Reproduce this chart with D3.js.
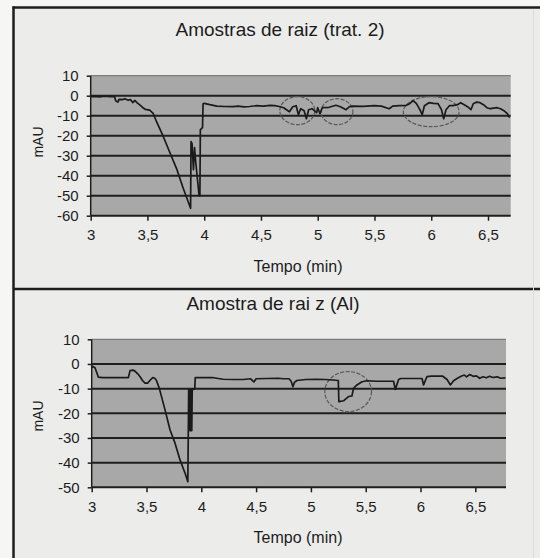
<!DOCTYPE html>
<html>
<head>
<meta charset="utf-8">
<script src="https://cdn.jsdelivr.net/npm/d3@7"></script>
<style>
  html, body { margin: 0; padding: 0; background: #f6f6f5; }
  svg { display: block; }
  text { font-family: "Liberation Sans", Arial, sans-serif; fill: #1c1c1c; }
</style>
</head>
<body>
<script>
// ---------- DATA ----------
const chartTitles = ["Amostras de raiz (trat. 2)", "Amostra de rai z (Al)"];
const xAxisTitle = "Tempo (min)";
const yAxisTitle = "mAU";

const xTicks = [3, 3.5, 4, 4.5, 5, 5.5, 6, 6.5];
const xTickLabels = ["3", "3,5", "4", "4,5", "5", "5,5", "6", "6,5"];

const yTicksTop = [10, 0, -10, -20, -30, -40, -50, -60];
const yTickLabelsTop = ["10", "0", "-10", "-20", "-30", "-40", "-50", "-60"];
const yTicksBottom = [10, 0, -10, -20, -30, -40, -50];
const yTickLabelsBottom = ["10", "0", "-10", "-20", "-30", "-40", "-50"];

// Series 1: Amostras de raiz (trat. 2)
const trat2Time = [
  3.00, 3.03, 3.08, 3.12, 3.17, 3.21, 3.22, 3.24, 3.25, 3.28, 3.30, 3.33, 3.35, 3.37, 3.39, 3.41,
  3.435, 3.46, 3.48, 3.52, 3.55, 3.58, 3.64, 3.70, 3.76, 3.815, 3.88,
  3.884, 3.893, 3.905, 3.915, 3.925, 3.955, 3.962, 3.966, 3.985, 3.990,
  4.00, 4.05, 4.11, 4.18, 4.25, 4.30, 4.35, 4.40, 4.46, 4.52, 4.58, 4.62, 4.66, 4.70, 4.75, 4.78,
  4.81, 4.83, 4.85, 4.88, 4.90, 4.92, 4.95, 4.99, 5.00, 5.02, 5.04, 5.10, 5.16, 5.20, 5.25, 5.28,
  5.31, 5.40, 5.50, 5.56, 5.63, 5.66, 5.72, 5.78, 5.81, 5.84, 5.87, 5.90, 5.92, 5.94, 5.98, 6.02,
  6.06, 6.09, 6.11, 6.13, 6.16, 6.19, 6.23, 6.26, 6.29, 6.32, 6.35, 6.37, 6.40, 6.43, 6.46, 6.49,
  6.52, 6.55, 6.58, 6.61, 6.64, 6.67, 6.69
];
const trat2Value = [
  -0.5, -0.3, -0.6, -0.2, -0.5, -0.4, -2.5, -3.2, -1.8, -2.0, -1.5, -2.3, -1.9, -3.4, -2.4, -3.6,
  -4.7, -6.0, -6.8, -7.2, -8.8, -13, -20.5, -28.8, -37, -46.3, -56.3,
  -23, -24, -37, -26, -33, -50, -50, -17, -16, -4,
  -3.8, -4.5, -5.2, -5.4, -5.5, -5.2, -5.6, -5.4, -5.0, -5.2, -4.8, -5.0, -5.4, -6.0, -8.0, -5.5,
  -5.0, -9.5, -6.5, -7.5, -11.5, -7, -6.5, -8.5, -6, -9, -6, -5.8, -4.8, -5.5, -7.0, -5.5,
  -5.2, -5.3, -5.0, -5.2, -6.5, -5.2, -5.0, -4.8, -4.0, -2.5, -4.0, -7, -9.5, -5, -3.5, -3.8,
  -4.0, -7, -11.5, -7, -5, -5, -4.5, -3.5, -4.5, -5.5, -7, -4, -3.2, -3.5, -4.5, -6.0,
  -6.5, -6.2, -6.0, -6.5, -7.5, -9, -11
];

// Series 2: Amostra de raiz (Al)
const alTime = [
  3.00, 3.01, 3.03, 3.05, 3.06, 3.10, 3.20, 3.30, 3.335, 3.35, 3.375, 3.395, 3.42, 3.44, 3.465,
  3.487, 3.51, 3.535, 3.557, 3.575, 3.59, 3.617, 3.669, 3.715, 3.761, 3.806, 3.852, 3.877,
  3.885, 3.893, 3.897, 3.901, 3.905, 3.909, 3.913, 3.917, 3.94, 3.945,
  4.00, 4.10, 4.14, 4.20, 4.30, 4.38, 4.45, 4.48, 4.50, 4.60, 4.70, 4.75, 4.80, 4.82, 4.836, 4.85,
  4.872, 4.95, 5.05, 5.13, 5.20, 5.25, 5.255, 5.30, 5.343, 5.374, 5.389, 5.42, 5.466, 5.511,
  5.60, 5.70, 5.754, 5.77, 5.80, 5.82, 5.90, 6.014, 6.028, 6.059, 6.10, 6.20, 6.242, 6.272,
  6.302, 6.333, 6.37, 6.40, 6.42, 6.45, 6.48, 6.51, 6.54, 6.57, 6.60, 6.63, 6.66, 6.70, 6.73, 6.775
];
const alValue = [
  -1.5, -1.0, -1.5, -4.0, -5.3, -5.5, -5.5, -5.5, -5.5, -2.7, -2.5, -2.9, -4.0, -5.1, -6.8,
  -7.8, -7.8, -6.5, -5.5, -5.8, -6.6, -9.9, -18.6, -26.8, -32.2, -38.9, -44.3, -47.7,
  -10.5, -10.5, -27, -10.5, -27, -10.5, -27, -10.5, -10, -5.5,
  -5.5, -5.5, -5.8, -6.2, -6.3, -6.3, -6.0, -7.3, -6.0, -5.9, -5.8, -6.0, -6.0, -7.0, -9.2, -7.5,
  -6.7, -6.3, -6.2, -6.3, -6.5, -6.7, -15.3, -14.9, -13.2, -13.0, -9.9, -8.5, -7.2, -6.8,
  -7.0, -7.0, -7.0, -10.3, -6.3, -5.9, -5.9, -5.9, -8.5, -5.1, -4.9, -4.9, -6.3, -8.5,
  -6.8, -5.9, -5.0, -4.5, -5.2, -4.3, -5.0, -4.8, -5.8, -5.2, -5.6, -5.0, -5.5, -5.2, -5.8, -5.6
];

// Hand-drawn annotation ellipses (centre time, centre value, half-width in min, half-height in mAU)
const trat2CircleTime = [4.82, 5.17, 6.00];
const trat2CircleValue = [-7.5, -8, -8];
const trat2CircleRx = [0.154, 0.14, 0.246];
const trat2CircleRy = [7, 6.5, 7.5];
const alCircleTime = [5.34];
const alCircleValue = [-11.2];
const alCircleRx = [0.213];
const alCircleRy = [8.1];

// ---------- DRAWING ----------
const W = 540, H = 558;
const svg = d3.select("body").append("svg").attr("width", W).attr("height", H);

// panel background and frame
svg.append("rect").attr("x", 14).attr("y", 8).attr("width", W - 14).attr("height", H - 8)
  .attr("fill", "#ececeb");
svg.append("line").attr("x1", 12.5).attr("x2", W).attr("y1", 7.5).attr("y2", 7.5)
  .attr("stroke", "#1e1e1e").attr("stroke-width", 2.5);
svg.append("line").attr("x1", 13.5).attr("x2", 13.5).attr("y1", 6.5).attr("y2", H)
  .attr("stroke", "#1e1e1e").attr("stroke-width", 2.5);
svg.append("line").attr("x1", 13).attr("x2", W).attr("y1", 289).attr("y2", 289)
  .attr("stroke", "#1e1e1e").attr("stroke-width", 2.5);
svg.append("line").attr("x1", 533.5).attr("x2", 533.5).attr("y1", 9).attr("y2", H)
  .attr("stroke", "#dcdcdc").attr("stroke-width", 1);

function drawChart(cfg) {
  const x = d3.scaleLinear().domain(cfg.xDomain).range([cfg.left, cfg.right]);
  const y = d3.scaleLinear().domain(cfg.yDomain).range([cfg.bottom, cfg.top]);
  const g = svg.append("g");

  // plot area
  g.append("rect")
    .attr("x", cfg.left).attr("y", cfg.top)
    .attr("width", cfg.right - cfg.left).attr("height", cfg.bottom - cfg.top)
    .attr("fill", "#a8a8a8");

  // gridlines
  g.selectAll(".grid").data(cfg.yTicks.filter(v => v !== cfg.yDomain[0]))
    .enter().append("line")
    .attr("x1", cfg.left).attr("x2", cfg.right)
    .attr("y1", d => y(d)).attr("y2", d => y(d))
    .attr("stroke", d => d === cfg.yDomain[1] ? "#6a6a6a" : "#1e1e1e")
    .attr("stroke-width", d => d === cfg.yDomain[1] ? 1 : 2);

  // annotation ellipses
  g.selectAll(".circ").data(cfg.circT.map((t, i) => i))
    .enter().append("ellipse")
    .attr("cx", i => x(cfg.circT[i]))
    .attr("cy", i => y(cfg.circV[i]))
    .attr("rx", i => x(cfg.circT[i] + cfg.circRx[i]) - x(cfg.circT[i]))
    .attr("ry", i => y(cfg.circV[i] - cfg.circRy[i]) - y(cfg.circV[i]))
    .attr("fill", "none").attr("stroke", "#5a5a5a").attr("stroke-width", 1.2)
    .attr("stroke-dasharray", "4,1.5");

  // series line
  const pts = cfg.time.map((t, i) => [t, cfg.value[i]]);
  g.append("path").datum(pts)
    .attr("d", d3.line().x(d => x(d[0])).y(d => y(d[1])))
    .attr("fill", "none").attr("stroke", "#1a1a1a").attr("stroke-width", 1.7)
    .attr("stroke-linejoin", "round");

  // axes
  const xAxis = d3.axisBottom(x).tickValues(xTicks)
    .tickFormat((d, i) => xTickLabels[i]).tickSize(5).tickPadding(9);
  const gx = g.append("g").attr("transform", `translate(0,${cfg.bottom})`).call(xAxis);
  gx.select(".domain").attr("stroke", "#1e1e1e").attr("stroke-width", 2)
    .attr("d", `M${cfg.left},0H${cfg.right}`);
  gx.selectAll(".tick line").attr("stroke", "#1e1e1e").attr("stroke-width", 1.5);
  gx.selectAll(".tick text").attr("font-size", 15).attr("fill", "#1c1c1c")
    .attr("font-family", '"Liberation Sans", Arial, sans-serif');

  const yAxis = d3.axisLeft(y).tickValues(cfg.yTicks)
    .tickFormat((d, i) => cfg.yLabels[i]).tickSize(4).tickPadding(8);
  const gy = g.append("g").attr("transform", `translate(${cfg.left},0)`).call(yAxis);
  gy.select(".domain").attr("stroke", "#1e1e1e").attr("stroke-width", 1.5)
    .attr("d", `M0,${cfg.top}V${cfg.bottom}`);
  gy.selectAll(".tick line").attr("stroke", "#1e1e1e").attr("stroke-width", 1.5);
  gy.selectAll(".tick text").attr("font-size", 15).attr("fill", "#1c1c1c")
    .attr("font-family", '"Liberation Sans", Arial, sans-serif');

  // titles
  g.append("text").attr("x", cfg.titleX).attr("y", cfg.titleY)
    .attr("text-anchor", "middle").attr("font-size", 19).text(cfg.title);
  g.append("text").attr("x", 298).attr("y", cfg.bottom + 56)
    .attr("text-anchor", "middle").attr("font-size", 16).text(xAxisTitle);
  g.append("text")
    .attr("transform", `translate(43,${cfg.yTitleY}) rotate(-90)`)
    .attr("text-anchor", "middle").attr("font-size", 14).text(yAxisTitle);
}

drawChart({
  title: chartTitles[0], titleX: 280, titleY: 36,
  xDomain: [3, 6.7], yDomain: [-60, 10],
  left: 90.7, right: 510.7, top: 75.7, bottom: 215.7,
  yTicks: yTicksTop, yLabels: yTickLabelsTop,
  time: trat2Time, value: trat2Value,
  circT: trat2CircleTime, circV: trat2CircleValue, circRx: trat2CircleRx, circRy: trat2CircleRy,
  yTitleY: 142
});

drawChart({
  title: chartTitles[1], titleX: 273, titleY: 310,
  xDomain: [3, 6.78], yDomain: [-50, 10],
  left: 91.7, right: 506, top: 339.3, bottom: 487.3,
  yTicks: yTicksBottom, yLabels: yTickLabelsBottom,
  time: alTime, value: alValue,
  circT: alCircleTime, circV: alCircleValue, circRx: alCircleRx, circRy: alCircleRy,
  yTitleY: 416
});
</script>
</body>
</html>
